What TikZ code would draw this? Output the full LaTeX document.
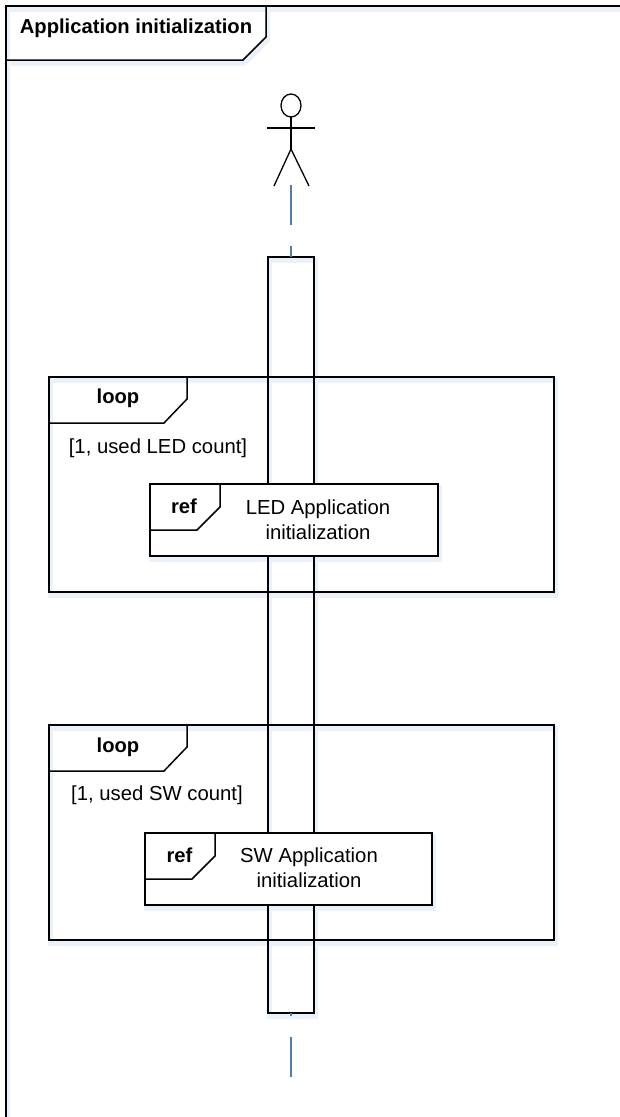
\documentclass[tikz,border=0pt]{standalone}
\usepackage{fontspec}
\setmainfont{Liberation Sans}
\definecolor{lifeblue}{HTML}{4A7EAF}
\definecolor{shadowblue}{HTML}{E9F1FB}
\tikzset{
  x=1pt,y=-1pt,
  umlline/.style={draw=black,line width=1.5pt,line join=miter},
  softshadow/.style={draw=shadowblue,line width=5pt,transform canvas={shift={(1.5pt,-3pt)}}},
  lifeline/.style={draw=lifeblue,line width=1.6pt,dash pattern=on 40pt off 21pt},
  tagtext/.style={inner sep=0pt,font=\fontsize{20.2pt}{24pt}\selectfont\bfseries},
  bodytext/.style={inner sep=0pt,align=center,font=\fontsize{20.3pt}{24.5pt}\selectfont},
  actbox/.style={umlline,minimum width=46pt,minimum height=756pt,inner sep=0pt,outer sep=0pt,rectangle},
}
\newcommand{\loopframe}[1]{%
  \draw[umlline] (49,#1) rectangle (554,#1+215);
  \draw[umlline] (49,#1+46) -- (164,#1+46) -- (187,#1+22) -- (187,#1);
}
\newcommand{\reffrm}[4]{%
  \fill[white] (#1,#2) rectangle (#3,#4);
  \draw[umlline] (#1,#2) rectangle (#3,#4);
  \draw[umlline] (#1,#2+46) -- (#1+47,#2+46) -- (#1+70,#2+23) -- (#1+70,#2);
}
\begin{document}
\begin{tikzpicture}
\useasboundingbox (0,0) rectangle (620,1117);
\fill[white] (0,0) rectangle (620,1117);
% soft shadows, below every line
\draw[softshadow] (620,6) -- (6,6) -- (6,1117);
\draw[softshadow] (6,60) -- (243,60) -- (266,37) -- (266,6);
\draw[softshadow] (268,257) rectangle (314,1013);
\draw[softshadow] (49,377) rectangle (554,592);
\draw[softshadow] (49,725) rectangle (554,940);
\draw[softshadow] (150,484) rectangle (438,556);
\draw[softshadow] (145,833) rectangle (432,905);
% frame
\draw[umlline] (620,6) -- (6,6) -- (6,1117);
\draw[umlline] (6,60) -- (243,60) -- (266,37) -- (266,6);
\node[tagtext,anchor=center] (title) at (136,28) {Application initialization};
% actor
\coordinate (actorfoot) at (291,185);
\draw[line width=1.3pt] (291,105.5) ellipse [x radius=10,y radius=11.5];
\draw[line width=1.3pt] (291,117) -- (291,149);
\draw[line width=1.3pt] (267,128) -- (315,128);
\draw[line width=1.3pt] (274,186) -- (291,149) -- (309,186);
% activation
\node[actbox,draw] (act) at (291,635) {};
\coordinate (lifeend) at (291,1077);
\draw[lifeline] (actorfoot) -- (act.north);
\draw[lifeline] (lifeend) -- (act.south);
% loop 1
\loopframe{377}
\node[tagtext] (loopa) at (118,398) {loop};
\node[bodytext] (guarda) at (158,448) {[1, used LED count]};
\reffrm{150}{484}{438}{556}
\node[tagtext] (refa) at (184,506) {ref};
\node[bodytext] (texta) at (318,519.5) {LED Application\\initialization};
% loop 2
\loopframe{725}
\node[tagtext] (loopb) at (118,747) {loop};
\node[bodytext] (guardb) at (157,795) {[1, used SW count]};
\reffrm{145}{833}{432}{905}
\node[tagtext] (refb) at (179.5,855) {ref};
\node[bodytext] (textb) at (309,867.5) {SW Application\\initialization};
\end{tikzpicture}
\end{document}
